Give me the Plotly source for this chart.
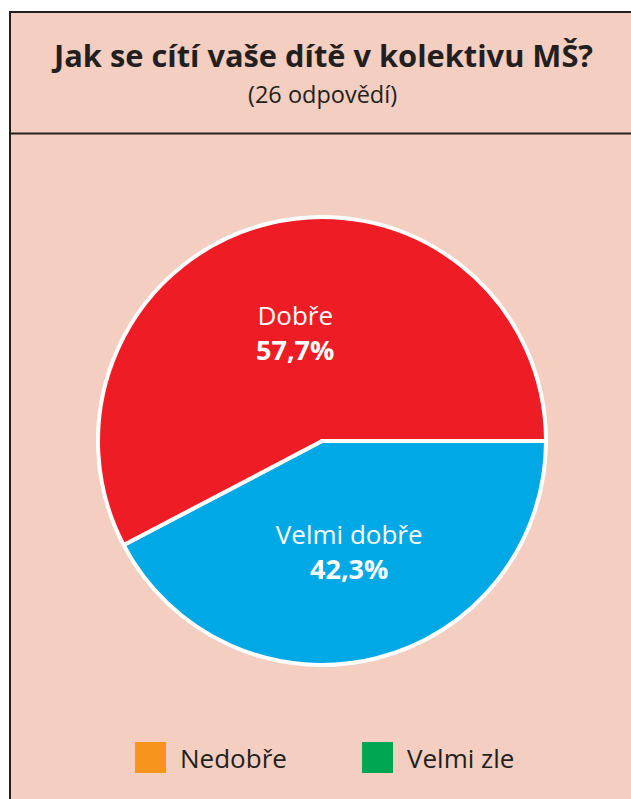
import plotly.graph_objects as go

title_text = "Jak se cítí vaše dítě v kolektivu MŠ?"
subtitle_text = "(26 odpovědí)"
categories = ["Velmi dobře", "Dobře", "Nedobře", "Velmi zle"]
counts = [11, 15, 0, 0]
colors = ["#00A9E6", "#EE1D25", "#F7941D", "#00A651"]

W, H = 631, 799
BG = "#F4CEC0"
INK = "#231F20"
FONT = "Open Sans"

def px(x):
    return x / W

def py(y):
    return 1 - y / H

fig = go.Figure()

fig.add_trace(go.Pie(
    labels=categories,
    values=counts,
    marker=dict(colors=colors, line=dict(color="white", width=4)),
    sort=False,
    direction="clockwise",
    rotation=90,
    textposition="inside",
    insidetextorientation="horizontal",
    texttemplate="<span style='font-size:26px'>%{label}</span><br><b>%{percent:.1%}</b>",
    textfont=dict(family=FONT, size=27, color="white"),
    hoverinfo="label+percent",
    showlegend=False,
    domain=dict(x=[px(98), px(546)], y=[py(665), py(217)]),
))

shapes = [
    dict(type="rect", xref="paper", yref="paper",
         x0=px(10), x1=px(W + 20), y0=py(H + 20), y1=py(12),
         fillcolor=BG, line=dict(color=INK, width=2), layer="below"),
    dict(type="line", xref="paper", yref="paper",
         x0=px(10), x1=px(W + 20), y0=py(133.5), y1=py(133.5),
         line=dict(color=INK, width=2), layer="below"),
]

annotations = [
    dict(text="<b>" + title_text + "</b>", x=px(322), y=py(55), xref="paper", yref="paper",
         showarrow=False, xanchor="center", yanchor="middle",
         font=dict(family=FONT, size=30.8, color=INK)),
    dict(text=subtitle_text, x=px(322), y=py(94), xref="paper", yref="paper",
         showarrow=False, xanchor="center", yanchor="middle",
         font=dict(family=FONT, size=23.5, color=INK)),
]

# legend for categories not present in the pie (zero responses)
legend_x = [135, 362]
for i, (cat, val, col) in enumerate(zip(categories, counts, colors)):
    if val != 0:
        continue
    k = len([c for c in counts[:i] if c == 0])
    x0 = legend_x[k]
    shapes.append(dict(type="rect", xref="paper", yref="paper",
                       x0=px(x0), x1=px(x0 + 31), y0=py(773), y1=py(742),
                       fillcolor=col, line=dict(width=0)))
    annotations.append(dict(text=cat, x=px(x0 + 43), y=py(758), xref="paper", yref="paper",
                            showarrow=False, xanchor="left", yanchor="middle",
                            font=dict(family=FONT, size=26, color=INK)))

fig.update_layout(
    width=W, height=H,
    margin=dict(l=0, r=0, t=0, b=0),
    paper_bgcolor="white",
    plot_bgcolor="white",
    separators=",.",
    shapes=shapes,
    annotations=annotations,
    font=dict(family=FONT),
)

fig.write_html("out.html", config={"displayModeBar": False},
               post_script="document.body.style.margin='0px';")
